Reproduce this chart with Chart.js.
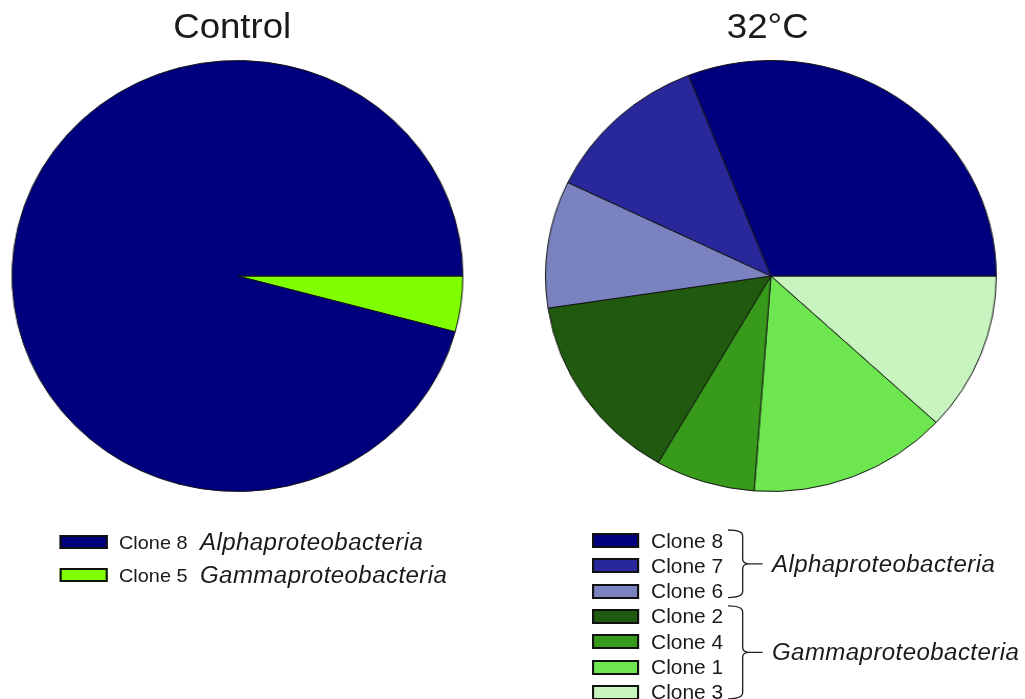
<!DOCTYPE html>
<html>
<head>
<meta charset="utf-8">
<script src="https://cdn.jsdelivr.net/npm/chart.js@4"></script>
<style>
  html, body { margin: 0; padding: 0; background: #fff; overflow: hidden; }
  body { width: 1025px; height: 699px; }
  /* the reference is stretched sideways a little, so lay out narrow and stretch */
  #page { position: relative; width: 980px; height: 699px; transform: scaleX(1.046); transform-origin: 0 0;
          font-family: "Liberation Sans", Arial, sans-serif; color: #1a1a1a; }
  .title { position: absolute; top: 6px; width: 300px; text-align: center; font-size: 35px; }
  .pie { position: absolute; top: 60px; width: 432px; height: 432px; }
  .row { position: absolute; height: 15px; white-space: nowrap; }
  .box { position: absolute; left: 0; top: 0; box-sizing: border-box; border: 2px solid #111; }
  .lab { position: absolute; top: 50%; transform: translateY(-50%); line-height: 1; }
  .grp { position: absolute; font-style: italic; font-size: 23px; letter-spacing: 0.4px; line-height: 1; transform: translateY(-50%); }
  svg { position: absolute; left: 0; top: 0; }
</style>
</head>
<body>
<div id="page">
  <div class="title" style="left:72px">Control</div>
  <div class="title" style="left:584px">32°C</div>
  <div class="pie" style="left:10.6px"><canvas id="controlPie" width="432" height="432"></canvas></div>
  <div class="pie" style="left:521px"><canvas id="heatPie" width="432" height="432"></canvas></div>
  <div id="legends"></div>
  <svg id="brackets" width="980" height="699"></svg>
</div>
<script>
// Control: clone counts
const controlLabels = ['Clone 8', 'Clone 5'];
const controlGroups = ['Alphaproteobacteria', 'Gammaproteobacteria'];
const controlValues = [23, 1];
const controlColors = ['#00007f', '#7fff00'];

// 32°C: clone counts
const heatLabels = ['Clone 8', 'Clone 7', 'Clone 6', 'Clone 2', 'Clone 4', 'Clone 1', 'Clone 3'];
const heatValues = [13, 5, 4, 6, 3, 6, 5];
const heatColors = ['#00007f', '#28289a', '#7a82c0', '#1f5a0e', '#379a1a', '#6ee650', '#c8f5bf'];
const heatGroups = ['Alphaproteobacteria', 'Gammaproteobacteria'];
const heatGroupSizes = [3, 4];

function makePie(id, labels, values, colors) {
    // slices run counter-clockwise from 3 o'clock in the original, so reverse for Chart.js
    new Chart(document.getElementById(id), {
        type: 'pie',
        data: {
            labels: labels.slice().reverse(),
            datasets: [{
                data: values.slice().reverse(),
                backgroundColor: colors.slice().reverse(),
                borderColor: '#151515',
                borderWidth: 1,
                hoverOffset: 0
            }]
        },
        options: {
            responsive: false,
            animation: false,
            events: [],
            rotation: 90,
            layout: { padding: 0 },
            plugins: { legend: { display: false }, tooltip: { enabled: false } }
        }
    });
}

makePie('controlPie', controlLabels, controlValues, controlColors);
makePie('heatPie', heatLabels, heatValues, heatColors);

const legends = document.getElementById('legends');

function addRow(x, y, w, h, color, text, size, textX) {
    const row = document.createElement('div');
    row.className = 'row';
    row.style.left = x + 'px';
    row.style.top = y + 'px';
    row.style.height = h + 'px';
    const box = document.createElement('div');
    box.className = 'box';
    box.style.width = w + 'px';
    box.style.height = h + 'px';
    box.style.background = color;
    row.appendChild(box);
    const lab = document.createElement('span');
    lab.className = 'lab';
    lab.style.left = textX + 'px';
    lab.style.fontSize = size + 'px';
    lab.textContent = text;
    row.appendChild(lab);
    legends.appendChild(row);
    return row;
}

// control legend
controlLabels.forEach((lab, i) => {
    const row = addRow(57.4, 535 + i * 33, 46, 14, controlColors[i], lab, 19, 56.4);
    const g = document.createElement('span');
    g.className = 'grp';
    g.style.left = '133.8px';
    g.style.top = '50%';
    g.textContent = controlGroups[i];
    row.appendChild(g);
});

// 32°C legend
const rowTop = 533, rowStep = 25.3;
heatLabels.forEach((lab, i) => {
    addRow(566, rowTop + i * rowStep, 45, 15, heatColors[i], lab, 20, 56.4);
});

// curly brackets grouping the clones
const svg = document.getElementById('brackets');
let start = 0;
heatGroups.forEach((name, g) => {
    const n = heatGroupSizes[g];
    const y0 = rowTop + start * rowStep - 3;
    const y1 = rowTop + (start + n - 1) * rowStep + 15 - 1;
    const ym = (y0 + y1) / 2;
    const bx = 710, lx = 696, tx = 729;
    const d = `M${lx},${y0} Q${bx},${y0} ${bx},${y0 + 6} L${bx},${ym - 5} Q${bx},${ym} ${bx + 6},${ym} L${tx},${ym} ` +
              `M${bx + 6},${ym} Q${bx},${ym} ${bx},${ym + 5} L${bx},${y1 - 6} Q${bx},${y1} ${lx},${y1}`;
    const p = document.createElementNS('http://www.w3.org/2000/svg', 'path');
    p.setAttribute('d', d);
    p.setAttribute('fill', 'none');
    p.setAttribute('stroke', '#222');
    p.setAttribute('stroke-width', '1.3');
    svg.appendChild(p);
    const t = document.createElement('span');
    t.className = 'grp';
    t.style.left = '738px';
    t.style.top = ym + 'px';
    t.textContent = name;
    legends.appendChild(t);
    start += n;
});
</script>
</body>
</html>
